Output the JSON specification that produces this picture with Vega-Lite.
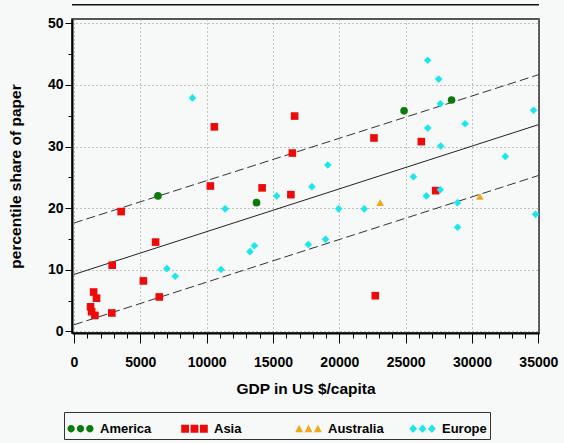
{
  "$schema": "https://vega.github.io/schema/vega-lite/v6.json",
  "width": 467,
  "height": 314,
  "autosize": "none",
  "padding": {"left": 72, "top": 19, "right": 25, "bottom": 110},
  "background": "#f6f9f7",
  "datasets": {
    "pts": [
      {"region": "America", "gdp": 6330, "share": 22.0},
      {"region": "America", "gdp": 13760, "share": 20.9},
      {"region": "America", "gdp": 24880, "share": 35.8},
      {"region": "America", "gdp": 28460, "share": 37.55},
      {"region": "Asia", "gdp": 10580, "share": 33.2},
      {"region": "Asia", "gdp": 16630, "share": 34.95},
      {"region": "Asia", "gdp": 16460, "share": 28.95},
      {"region": "Asia", "gdp": 22610, "share": 31.4},
      {"region": "Asia", "gdp": 26180, "share": 30.8},
      {"region": "Asia", "gdp": 10280, "share": 23.6},
      {"region": "Asia", "gdp": 14180, "share": 23.3},
      {"region": "Asia", "gdp": 16350, "share": 22.2},
      {"region": "Asia", "gdp": 3555, "share": 19.45},
      {"region": "Asia", "gdp": 6150, "share": 14.5},
      {"region": "Asia", "gdp": 2880, "share": 10.75},
      {"region": "Asia", "gdp": 5230, "share": 8.2},
      {"region": "Asia", "gdp": 1480, "share": 6.4},
      {"region": "Asia", "gdp": 1700, "share": 5.4},
      {"region": "Asia", "gdp": 6430, "share": 5.6},
      {"region": "Asia", "gdp": 1250, "share": 4.0},
      {"region": "Asia", "gdp": 1330, "share": 3.2},
      {"region": "Asia", "gdp": 1580, "share": 2.6},
      {"region": "Asia", "gdp": 2850, "share": 3.0},
      {"region": "Asia", "gdp": 27260, "share": 22.85},
      {"region": "Asia", "gdp": 22710, "share": 5.8},
      {"region": "Australia", "gdp": 23080, "share": 20.9},
      {"region": "Australia", "gdp": 30590, "share": 21.9},
      {"region": "Europe", "gdp": 8930, "share": 37.9},
      {"region": "Europe", "gdp": 26660, "share": 44.0},
      {"region": "Europe", "gdp": 27490, "share": 40.95},
      {"region": "Europe", "gdp": 27610, "share": 36.95},
      {"region": "Europe", "gdp": 34640, "share": 35.9},
      {"region": "Europe", "gdp": 26660, "share": 33.0},
      {"region": "Europe", "gdp": 29480, "share": 33.7},
      {"region": "Europe", "gdp": 27640, "share": 30.1},
      {"region": "Europe", "gdp": 19130, "share": 27.0},
      {"region": "Europe", "gdp": 32510, "share": 28.4},
      {"region": "Europe", "gdp": 25580, "share": 25.1},
      {"region": "Europe", "gdp": 17930, "share": 23.5},
      {"region": "Europe", "gdp": 26560, "share": 22.0},
      {"region": "Europe", "gdp": 27610, "share": 23.0},
      {"region": "Europe", "gdp": 28910, "share": 20.9},
      {"region": "Europe", "gdp": 19950, "share": 19.9},
      {"region": "Europe", "gdp": 21880, "share": 19.9},
      {"region": "Europe", "gdp": 28910, "share": 16.9},
      {"region": "Europe", "gdp": 34790, "share": 19.0},
      {"region": "Europe", "gdp": 17660, "share": 14.1},
      {"region": "Europe", "gdp": 18960, "share": 14.95},
      {"region": "Europe", "gdp": 11400, "share": 19.9},
      {"region": "Europe", "gdp": 13260, "share": 12.95},
      {"region": "Europe", "gdp": 13600, "share": 13.9},
      {"region": "Europe", "gdp": 7000, "share": 10.2},
      {"region": "Europe", "gdp": 7630, "share": 8.95},
      {"region": "Europe", "gdp": 11080, "share": 10.05},
      {"region": "Europe", "gdp": 15280, "share": 22.0}
    ],
    "lines": [
      {"band": "fit", "gdp": 0, "share": 9.25},
      {"band": "fit", "gdp": 35000, "share": 33.55},
      {"band": "upper", "gdp": 0, "share": 17.6},
      {"band": "upper", "gdp": 35000, "share": 41.65},
      {"band": "lower", "gdp": 0, "share": 1.08},
      {"band": "lower", "gdp": 35000, "share": 25.3}
    ]
  },
  "layer": [
    {
      "data": {"name": "lines"},
      "transform": [{"filter": "datum.band === 'fit'"}],
      "mark": {"type": "line", "color": "#222", "strokeWidth": 1, "clip": true},
      "encoding": {
        "x": {
          "field": "gdp", "type": "quantitative",
          "axis": {
            "orient": "bottom",
            "values": [0,1000,2000,3000,4000,5000,6000,7000,8000,9000,10000,11000,12000,13000,14000,15000,16000,17000,18000,19000,20000,21000,22000,23000,24000,25000,26000,27000,28000,29000,30000,31000,32000,33000,34000,35000],
            "tickSize": 5, "labels": false, "grid": false, "domain": false, "title": null
          }
        },
        "y": {
          "field": "share", "type": "quantitative",
          "axis": {
            "orient": "left",
            "values": [0,5,10,15,20,25,30,35,40,45,50],
            "tickSize": 4, "labels": false, "grid": false, "domain": false, "title": null
          }
        }
      }
    },
    {
      "data": {"name": "lines"},
      "transform": [{"filter": "datum.band !== 'fit'"}],
      "mark": {"type": "line", "color": "#333", "strokeWidth": 1, "strokeDash": [9, 4], "clip": true},
      "encoding": {
        "x": {"field": "gdp", "type": "quantitative", "axis": null},
        "y": {"field": "share", "type": "quantitative", "axis": null},
        "detail": {"field": "band"}
      }
    },
    {
      "data": {"name": "pts"},
      "mark": {"type": "point", "filled": true, "opacity": 0, "size": 20, "strokeWidth": 0},
      "encoding": {
        "x": {"field": "gdp", "type": "quantitative", "axis": null},
        "y": {"field": "share", "type": "quantitative", "axis": null},
        "color": {
          "field": "region", "type": "nominal",
          "legend": {
            "title": null,
            "orient": "none",
            "legendX": -8,
            "legendY": 393,
            "direction": "horizontal",
            "columns": 4,
            "gridAlign": "all",
            "columnPadding": 25,
            "symbolSize": 680,
            "symbolStrokeWidth": 0,
            "symbolOpacity": 1,
            "labelFont": "Liberation Sans",
            "labelFontSize": 13,
            "labelFontWeight": "bold",
            "labelColor": "#000",
            "labelOffset": 6,
            "strokeColor": "#333",
            "fillColor": "#f6f9f7",
            "padding": 3
          }
        },
        "shape": {
          "field": "region", "type": "nominal",
          "scale": {
            "domain": ["America", "Asia", "Australia", "Europe"],
            "range": [
              "M-1,0A0.28,0.28,0,1,0,-0.44,0A0.28,0.28,0,1,0,-1,0ZM-0.28,0A0.28,0.28,0,1,0,0.28,0A0.28,0.28,0,1,0,-0.28,0ZM0.44,0A0.28,0.28,0,1,0,1,0A0.28,0.28,0,1,0,0.44,0Z",
              "M-1.02,-0.3L-0.42,-0.3L-0.42,0.3L-1.02,0.3ZM-0.3,-0.3L0.3,-0.3L0.3,0.3L-0.3,0.3ZM0.42,-0.3L1.02,-0.3L1.02,0.3L0.42,0.3Z",
              "M-1.02,0.27L-0.42,0.27L-0.72,-0.3ZM-0.3,0.27L0.3,0.27L0,-0.3ZM0.42,0.27L1.02,0.27L0.72,-0.3Z",
              "M-0.72,-0.32L-0.42,0L-0.72,0.32L-1.02,0ZM0,-0.32L0.3,0L0,0.32L-0.3,0ZM0.72,-0.32L1.02,0L0.72,0.32L0.42,0Z"
            ]
          },
          "legend": {
            "title": null,
            "orient": "none",
            "legendX": -8,
            "legendY": 393,
            "direction": "horizontal",
            "columns": 4,
            "gridAlign": "all",
            "columnPadding": 25,
            "symbolSize": 680,
            "symbolStrokeWidth": 0,
            "symbolOpacity": 1,
            "labelFont": "Liberation Sans",
            "labelFontSize": 13,
            "labelFontWeight": "bold",
            "labelColor": "#000",
            "labelOffset": 6,
            "strokeColor": "#333",
            "fillColor": "#f6f9f7",
            "padding": 3
          }
        }
      }
    },
    {
      "data": {"name": "pts"},
      "mark": {"type": "point", "filled": true, "opacity": 1, "size": 58, "strokeWidth": 0},
      "encoding": {
        "x": {
          "field": "gdp", "type": "quantitative",
          "scale": {"domain": [-150, 35050], "nice": false, "zero": false},
          "axis": {
            "orient": "bottom",
            "title": "GDP in US $/capita",
            "values": [0,5000,10000,15000,20000,25000,30000,35000],
            "format": "d",
            "tickSize": 10,
            "grid": true,
            "labelFlush": false,
            "labelPadding": 12,
            "titlePadding": 12
          }
        },
        "y": {
          "field": "share", "type": "quantitative",
          "scale": {"domain": [-0.25, 50.7], "nice": false, "zero": false},
          "axis": {
            "orient": "left",
            "title": "percentile share of paper",
            "values": [0,10,20,30,40,50],
            "tickSize": 7,
            "grid": true,
            "labelFlush": false,
            "labelPadding": 2,
            "titlePadding": 24
          }
        },
        "color": {
          "field": "region", "type": "nominal",
          "scale": {"domain": ["America", "Asia", "Australia", "Europe"], "range": ["#0a7a0a", "#ee0a0a", "#f0a818", "#1ae6ee"]},
          "legend": null
        },
        "shape": {
          "field": "region", "type": "nominal",
          "scale": {"domain": ["America", "Asia", "Australia", "Europe"], "range": ["circle", "square", "triangle-up", "diamond"]},
          "legend": null
        }
      }
    },
    {
      "data": {"values": [{"edge": "top"}]},
      "mark": {"type": "rule", "color": "#111", "strokeWidth": 1.5, "clip": false},
      "encoding": {"y": {"datum": 53, "type": "quantitative", "axis": null}}
    }
  ],
  "resolve": {
    "axis": {"x": "independent", "y": "independent"},
    "scale": {"shape": "independent"},
    "legend": {"color": "independent", "shape": "independent"}
  },
  "config": {
    "view": {"stroke": "#222", "strokeWidth": 1.5, "fill": "#f6f9f7"},
    "font": "Liberation Sans",
    "axis": {
      "domainColor": "#000",
      "domainWidth": 2,
      "tickColor": "#000",
      "tickWidth": 1,
      "gridColor": "#888",
      "gridDash": [1, 3],
      "gridWidth": 1,
      "labelFont": "Liberation Sans",
      "labelFontSize": 14,
      "labelFontWeight": "bold",
      "labelColor": "#000",
      "labelOverlap": false,
      "titleFont": "Liberation Sans",
      "titleFontSize": 15.5,
      "titleFontWeight": "bold",
      "titleColor": "#000"
    }
  }
}
